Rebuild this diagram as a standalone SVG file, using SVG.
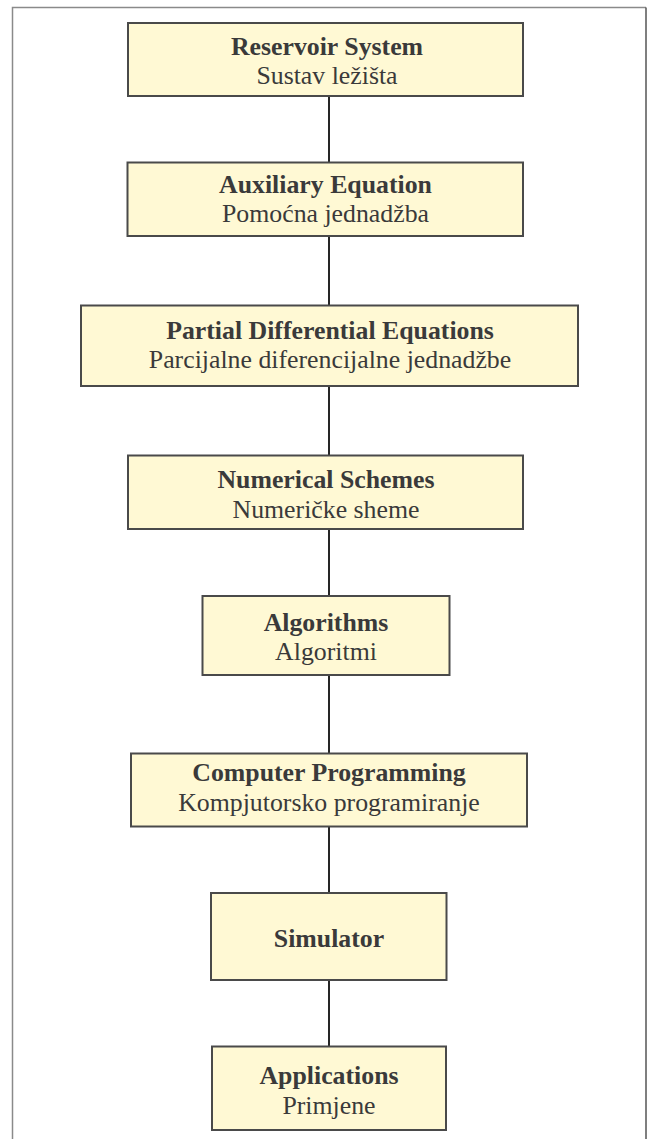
<svg xmlns="http://www.w3.org/2000/svg" width="647" height="1139" viewBox="0 0 647 1139">
<style>
.box{fill:#fff9d4;stroke:#4a4a4a;stroke-width:2}
.t{font-family:"Liberation Serif","Times New Roman",serif;font-size:25.8px;fill:#3a3a3a;text-anchor:middle}
.b{font-weight:bold}
.c{stroke:#262626;stroke-width:2;fill:none}
</style>
<rect width="647" height="1139" fill="#ffffff"/>
<g id="frame">
<path d="M12.5,1139 V7.5 H646" fill="none" stroke="#8a8a8a" stroke-width="1.5"/>
<path d="M646,7.5 V1139" fill="none" stroke="#555555" stroke-width="1.5"/>
</g>
<g id="connectors">
<line class="c" x1="329" y1="96" x2="329" y2="162"/>
<line class="c" x1="329" y1="236" x2="329" y2="305"/>
<line class="c" x1="329" y1="386" x2="329" y2="455"/>
<line class="c" x1="329" y1="529" x2="329" y2="596"/>
<line class="c" x1="329" y1="675" x2="329" y2="753"/>
<line class="c" x1="329" y1="827" x2="329" y2="893"/>
<line class="c" x1="329" y1="980" x2="329" y2="1046"/>
</g>
<g id="n1">
<rect class="box" x="128" y="23" width="395" height="73"/>
<text class="t b" x="327" y="55">Reservoir System</text>
<text class="t" x="327" y="84">Sustav ležišta</text>
</g>
<g id="n2">
<rect class="box" x="127.5" y="162.5" width="395.5" height="73.5"/>
<text class="t b" x="325.5" y="193">Auxiliary Equation</text>
<text class="t" x="325.5" y="222">Pomoćna jednadžba</text>
</g>
<g id="n3">
<rect class="box" x="81" y="305.5" width="497" height="80.5"/>
<text class="t b" x="330" y="339">Partial Differential Equations</text>
<text class="t" x="330" y="368">Parcijalne diferencijalne jednadžbe</text>
</g>
<g id="n4">
<rect class="box" x="128" y="455.5" width="395" height="73.5"/>
<text class="t b" x="326" y="488">Numerical Schemes</text>
<text class="t" x="326" y="518">Numeričke sheme</text>
</g>
<g id="n5">
<rect class="box" x="202.5" y="596" width="247" height="79"/>
<text class="t b" x="326" y="631">Algorithms</text>
<text class="t" x="326" y="660">Algoritmi</text>
</g>
<g id="n6">
<rect class="box" x="131" y="753.5" width="396" height="73"/>
<text class="t b" x="329" y="781">Computer Programming</text>
<text class="t" x="329" y="811">Kompjutorsko programiranje</text>
</g>
<g id="n7">
<rect class="box" x="211" y="893" width="235.5" height="87"/>
<text class="t b" x="329" y="947">Simulator</text>
</g>
<g id="n8">
<rect class="box" x="212" y="1046.5" width="234" height="83.5"/>
<text class="t b" x="329" y="1084">Applications</text>
<text class="t" x="329" y="1114">Primjene</text>
</g>
</svg>
